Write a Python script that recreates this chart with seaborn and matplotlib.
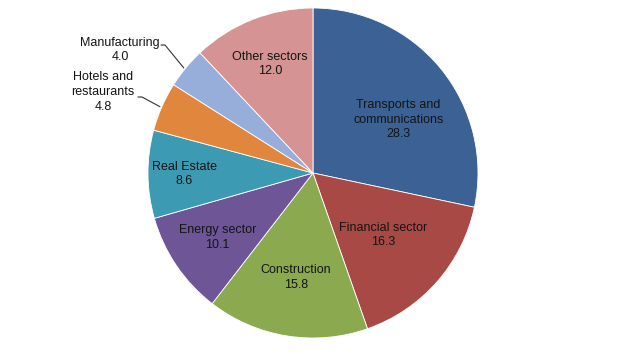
import numpy as np
import seaborn as sns
import matplotlib.pyplot as plt

sectors = ["Transports and\ncommunications", "Financial sector", "Construction",
           "Energy sector", "Real Estate", "Hotels and\nrestaurants",
           "Manufacturing", "Other sectors"]
shares = [28.3, 16.3, 15.8, 10.1, 8.6, 4.8, 4.0, 12.0]
colors = ["#3C6295", "#A84946", "#8BAA4F", "#6E5596", "#3C9AB2",
          "#E0873D", "#97AEDA", "#D59493"]
# radial position of each label as a fraction of the radius (>1 = outside)
label_r = [0.61, 0.57, 0.64, 0.70, 0.78, 1.32, 1.25, 0.71]
# small angular nudges (degrees) for label placement
label_dt = [-7, 0, 0, 0, 0, 0, 0, 0]

sns.set_style("white")
plt.rcParams['font.family'] = ['Liberation Sans', 'DejaVu Sans']

fig = plt.figure(figsize=(6.38, 3.54), dpi=100)
ax = fig.add_axes([0, 0, 1, 1])

cx, cy, R = 313, 181, 165
wedges, _ = ax.pie(shares, colors=colors, startangle=90, counterclock=False,
                   center=(cx, cy), radius=R,
                   wedgeprops=dict(edgecolor='white', linewidth=0.6))
ax.set_xlim(0, 638)
ax.set_ylim(0, 354)
ax.set_aspect('equal')
ax.axis('off')

for w, name, val, fr, dt in zip(wedges, sectors, shares, label_r, label_dt):
    mid = np.deg2rad((w.theta1 + w.theta2) / 2 + dt)
    txt = f"{name}\n{val:.1f}"
    if fr <= 1:
        x = cx + fr * R * np.cos(mid)
        y = cy + fr * R * np.sin(mid)
        ax.text(x, y, txt, ha='center', va='center', fontsize=9,
                color='#141414', linespacing=1.3)
    else:
        ex = cx + R * np.cos(mid)
        ey = cy + R * np.sin(mid)
        if name == "Manufacturing":
            tx, ty = 120, 354 - 50
            lx, ly = 161, 354 - 45
        else:
            tx, ty = 103, 354 - 92
            lx, ly = 138, 354 - 97
        ax.text(tx, ty, txt, ha='center', va='center', fontsize=9,
                color='#141414', linespacing=1.3)
        ax.plot([lx, lx + 4, ex - 2], [ly, ly, ey], color='#333333', lw=0.8)

fig.savefig("out.png", dpi=100)
